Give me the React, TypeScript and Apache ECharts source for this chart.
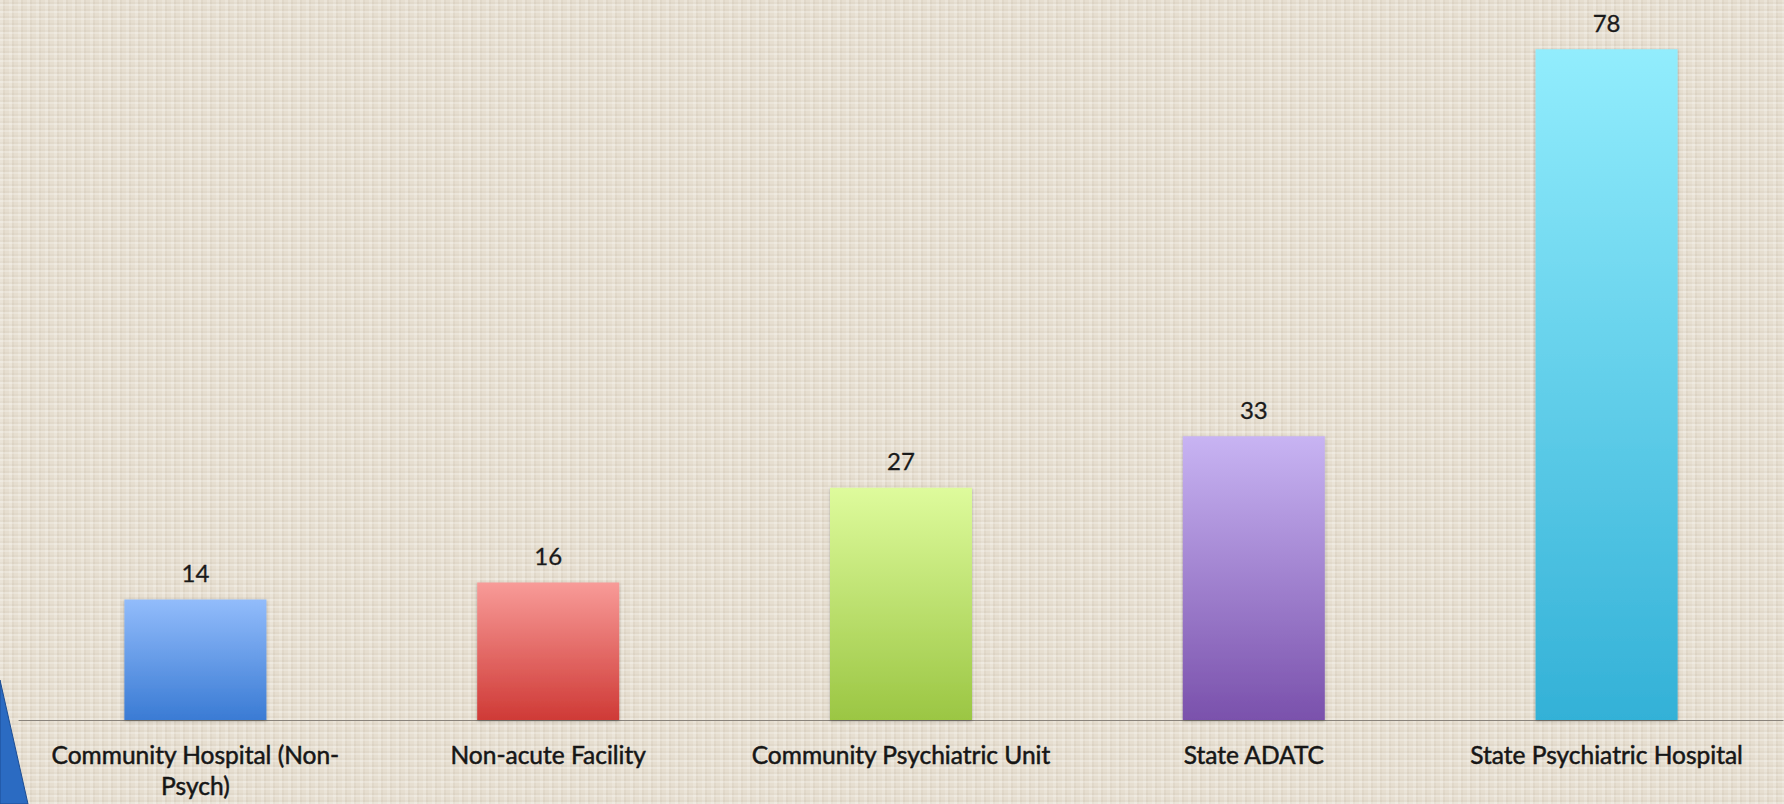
import React, { useEffect, useRef } from "react";
import * as echarts from "echarts";

const categories = [
  "Community Hospital (Non-Psych)",
  "Non-acute Facility",
  "Community Psychiatric Unit",
  "State ADATC",
  "State Psychiatric Hospital",
];
const values = [14, 16, 27, 33, 78];
const topColors = ["#92bcfb", "#f89b98", "#defb9c", "#c8b4f3", "#92edfd"];
const bottomColors = ["#3a7bd4", "#cf3a36", "#9bc643", "#7a51ac", "#33b1d7"];

export default function App() {
  const ref = useRef<HTMLDivElement>(null);
  useEffect(() => {
    if (!ref.current) return;
    const chart = echarts.init(ref.current, null, { renderer: "svg" });
    chart.setOption({
      animation: false,
      backgroundColor: "transparent",
      grid: { left: 19, right: 1, top: 32, bottom: 84 },
      xAxis: {
        type: "category",
        data: categories,
        axisTick: { show: false },
        axisLine: { lineStyle: { color: "#8a847c", width: 1.2 } },
        axisLabel: {
          interval: 0,
          fontFamily: "Lato",
          fontSize: 24.5,
          color: "#161616",
          textBorderColor: "#161616",
          textBorderWidth: 0.5,
          margin: 19,
          lineHeight: 31,
          formatter: (v: string) => v.replace("(Non-Psych)", "(Non-\nPsych)"),
        },
      },
      yAxis: {
        type: "value",
        min: 0,
        max: 80,
        show: false,
        splitLine: { show: false },
      },
      graphic: [
        {
          type: "polygon",
          shape: { points: [[0, 680], [28, 804], [0, 804]] },
          style: { fill: "#2b6bc2", stroke: "#1c4d93", lineWidth: 1 },
          z: 10,
        },
      ],
      series: [
        {
          type: "bar",
          barWidth: 142,
          data: values.map((v, i) => ({
            value: v,
            itemStyle: {
              color: new echarts.graphic.LinearGradient(0, 0, 0, 1, [
                { offset: 0, color: topColors[i] },
                { offset: 1, color: bottomColors[i] },
              ]),
              shadowColor: "rgba(0,0,0,0.3)",
              shadowBlur: 3,
              shadowOffsetY: 1,
            },
          })),
          label: {
            show: true,
            position: "top",
            distance: 15,
            fontFamily: "Lato",
            fontSize: 24,
            color: "#1a1a1a",
            textBorderColor: "#1a1a1a",
            textBorderWidth: 0.3,
          },
        },
      ],
    });
    return () => chart.dispose();
  }, []);

  const bg =
    "repeating-linear-gradient(0deg, rgba(255,255,255,0.22) 0px, rgba(255,255,255,0.22) 2px, rgba(120,100,70,0.045) 2px, rgba(120,100,70,0.045) 4px, transparent 4px, transparent 7px)," +
    "repeating-linear-gradient(90deg, rgba(255,255,255,0.18) 0px, rgba(255,255,255,0.18) 3px, rgba(120,100,70,0.05) 3px, rgba(120,100,70,0.05) 5px, transparent 5px, transparent 9px)," +
    "#e6ded0";

  return (
    <div
      style={{
        position: "fixed",
        left: 0,
        top: 0,
        width: 1784,
        height: 804,
        background: bg,
      }}
    >
      <div ref={ref} style={{ width: 1784, height: 804 }} />
    </div>
  );
}
